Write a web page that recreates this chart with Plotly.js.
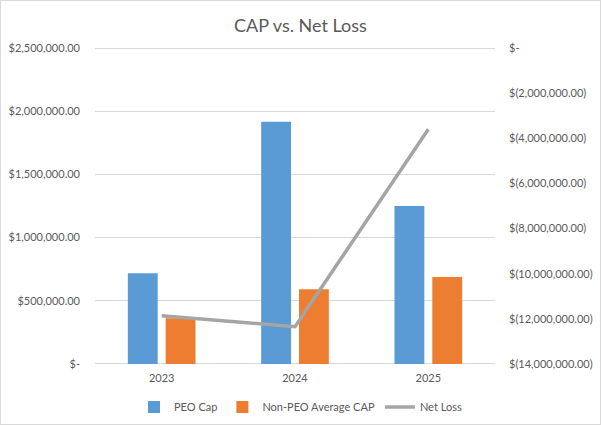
<!DOCTYPE html>
<html>
<head>
<meta charset="utf-8">
<script src="https://cdn.plot.ly/plotly-3.0.1.min.js"></script>
<style>
html,body{margin:0;padding:0;background:#fff;}
#wrap{width:599px;height:423px;border:1px solid #d9d9d9;overflow:hidden;}
#chart{width:599px;height:423px;}
</style>
</head>
<body>
<div id="wrap"><div id="chart"></div></div>
<script>
const categories = ["2023", "2024", "2025"];
const peoCap = [717000, 1917000, 1250000];
const nonPeoAvgCap = [361000, 591000, 688000];
const netLoss = [-11860000, -12350000, -3600000];
const leftTickVals = [0, 500000, 1000000, 1500000, 2000000, 2500000];
const leftTickText = ["$-", "$500,000.00", "$1,000,000.00", "$1,500,000.00", "$2,000,000.00", "$2,500,000.00"];
const rightTickVals = [0, -2000000, -4000000, -6000000, -8000000, -10000000, -12000000, -14000000];
const rightTickText = ["$-", "$(2,000,000.00)", "$(4,000,000.00)", "$(6,000,000.00)", "$(8,000,000.00)", "$(10,000,000.00)", "$(12,000,000.00)", "$(14,000,000.00)"];

const font = "Lato, 'Open Sans', sans-serif";
const pad = 16000;          // small padding so the edge gridlines are drawn
const ratio = 14000000 / 2500000;
const traces = [
  {type: "bar", name: "PEO Cap", x: categories, y: peoCap, marker: {color: "#5B9BD5"}},
  {type: "bar", name: "Non-PEO Average CAP", x: categories, y: nonPeoAvgCap, marker: {color: "#ED7D31"}},
  {type: "scatter", mode: "lines", name: "Net Loss", x: categories, y: netLoss, yaxis: "y2",
   line: {color: "#A5A5A5", width: 3.5}}
];
const layout = {
  width: 599, height: 423,
  margin: {l: 94, r: 105, t: 45, b: 58, autoexpand: false},
  paper_bgcolor: "#fff", plot_bgcolor: "#fff",
  font: {family: font, color: "#595959", size: 11},
  title: {text: "CAP vs. Net Loss", font: {family: font, size: 18, color: "#595959"}, x: 0.5, xanchor: "center", y: 0.942, yanchor: "middle"},
  barmode: "group", bargap: 0.433, bargroupgap: 0.21,
  showlegend: true,
  legend: {orientation: "h", x: 0.5, xanchor: "center", xref: "container", y: 0.04, yref: "container", yanchor: "middle", font: {size: 11, color: "#595959"}, itemwidth: 30, traceorder: "normal"},
  xaxis: {type: "category", showgrid: false, zeroline: false, showline: false, ticks: "", tickfont: {size: 11}, ticklabelstandoff: 4},
  yaxis: {range: [-pad, 2500000 + pad], tickvals: leftTickVals, ticktext: leftTickText, showgrid: true, gridcolor: "#D9D9D9", gridwidth: 1, zeroline: false, showline: false, ticks: "", ticklabelstandoff: 14},
  yaxis2: {overlaying: "y", side: "right", range: [-14000000 - pad * ratio, pad * ratio], tickvals: rightTickVals, ticktext: rightTickText, showgrid: false, zeroline: false, showline: false, ticks: "", ticklabelstandoff: 13}
};
Plotly.newPlot("chart", traces, layout, {displayModeBar: false, staticPlot: true});
</script>
</body>
</html>
